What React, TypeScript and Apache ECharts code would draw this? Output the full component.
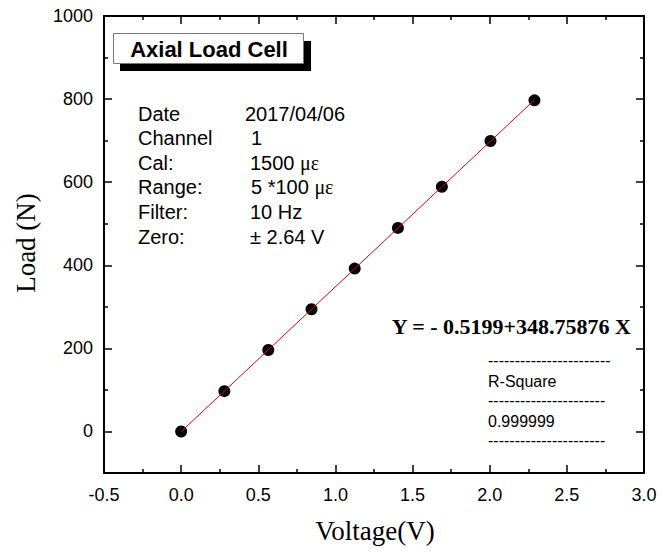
import React, { useEffect, useRef } from "react";
import * as echarts from "echarts";

const voltage = [0, 0.28, 0.565, 0.845, 1.125, 1.405, 1.69, 2.005, 2.29];
const load = [0, 97, 196, 294, 392, 490, 589, 699, 797];
const fitX = [0, 2.29];
const fitY = [-0.52, 798.1];
const yMajor = [0, 200, 400, 600, 800, 1000];
const yMinor = [-100, 100, 300, 500, 700, 900];
const infoLabels = ["Date", "Channel", "Cal:", "Range:", "Filter:", "Zero:"];
const infoValues = ["2017/04/06", "1", "1500", "5 *100", "10 Hz", "\u00b1 2.64 V"];
const infoUnits = ["", "", "\u03bc\u03b5", "\u03bc\u03b5", "", ""];
const equation = "Y = - 0.5199+348.75876 X";
const rLabel = "R-Square";
const rValue = "0.999999";

const SANS = "Arial, 'Liberation Sans', sans-serif";
const SERIF = "'Times New Roman', 'Liberation Serif', serif";

export default function App() {
  const ref = useRef<HTMLDivElement>(null);
  useEffect(() => {
    if (!ref.current) return;
    const chart = echarts.init(ref.current, null, { renderer: "svg" });
    const axisLine = { show: true, onZero: false, lineStyle: { color: "#000", width: 2 } };
    const noLine = { show: false, onZero: false };
    const baseY = { type: "value", min: -100, max: 1000, splitLine: { show: false } };
    const baseX = {
      type: "value",
      min: -0.5,
      max: 3,
      interval: 0.5,
      splitLine: { show: false },
      axisLine,
      axisTick: { show: true, inside: true, length: 8, lineStyle: { color: "#000", width: 1.5 } },
      minorTick: { show: true, splitNumber: 2, length: 4, lineStyle: { color: "#000", width: 1.5 } },
    };
    const texts: any[] = [];
    const rowY0 = 113.5;
    const rowDY = 24.6;
    const valueX = [245, 251, 250, 251, 250, 250];
    infoLabels.forEach((l, i) => {
      texts.push({
        type: "text",
        x: 138,
        y: rowY0 + i * rowDY,
        style: { text: l, font: `20px ${SANS}`, fill: "#000", align: "left", verticalAlign: "middle", textAlign: "left", textVerticalAlign: "middle" },
      });
      texts.push({
        type: "text",
        x: valueX[i],
        y: rowY0 + i * rowDY,
        style: {
          text: infoUnits[i] ? "{a|" + infoValues[i] + " }{b|" + infoUnits[i] + "}" : infoValues[i],
          font: `20px ${SANS}`,
          fill: "#000",
          align: "left",
          verticalAlign: "middle",
          textAlign: "left",
          textVerticalAlign: "middle",
          rich: {
            a: { font: `20px ${SANS}`, fill: "#000" },
            b: { font: `20px ${SERIF}`, fill: "#000" },
          },
        },
      });
    });
    const dash22 = "-".repeat(23);
    const dash21 = "-".repeat(22);
    const smallRows = [
      { t: dash22, y: 360 },
      { t: rLabel, y: 381 },
      { t: dash21, y: 400 },
      { t: rValue, y: 421 },
      { t: dash21, y: 440 },
    ];
    smallRows.forEach((r) => {
      texts.push({
        type: "text",
        x: 488,
        y: r.y,
        style: { text: r.t, font: `16px ${SANS}`, fill: "#000", align: "left", verticalAlign: "middle", textAlign: "left", textVerticalAlign: "middle" },
      });
    });

    chart.setOption({
      animation: false,
      grid: { left: 104, top: 16, width: 540, height: 457, containLabel: false },
      xAxis: [
        {
          ...baseX,
          position: "bottom",
          axisLabel: {
            show: true,
            fontSize: 18,
            fontFamily: SANS,
            color: "#000",
            margin: 13,
            formatter: (v: number) => v.toFixed(1),
          },
        },
        { ...baseX, position: "top", axisLabel: { show: false } },
      ],
      yAxis: [
        {
          ...baseY,
          position: "left",
          axisLine,
          axisTick: { show: true, inside: true, length: 8, customValues: yMajor, lineStyle: { color: "#000", width: 1.5 } },
          axisLabel: { show: true, customValues: yMajor, fontSize: 18, fontFamily: SANS, color: "#000", margin: 11, formatter: (v: number) => String(v) },
        },
        {
          ...baseY,
          position: "left",
          axisLine: noLine,
          axisTick: { show: true, inside: true, length: 4, customValues: yMinor, lineStyle: { color: "#000", width: 1.5 } },
          axisLabel: { show: false },
        },
        {
          ...baseY,
          position: "right",
          axisLine,
          axisTick: { show: true, inside: true, length: 8, customValues: yMajor, lineStyle: { color: "#000", width: 1.5 } },
          axisLabel: { show: false },
        },
        {
          ...baseY,
          position: "right",
          axisLine: noLine,
          axisTick: { show: true, inside: true, length: 4, customValues: yMinor, lineStyle: { color: "#000", width: 1.5 } },
          axisLabel: { show: false },
        },
      ],
      series: [
        {
          type: "scatter",
          xAxisIndex: 0,
          yAxisIndex: 0,
          data: voltage.map((v, i) => [v, load[i]]),
          symbol: "circle",
          symbolSize: 12,
          itemStyle: { color: "#000", opacity: 1 },
          z: 2,
        },
        {
          type: "line",
          xAxisIndex: 0,
          yAxisIndex: 0,
          data: fitX.map((v, i) => [v, fitY[i]]),
          showSymbol: false,
          symbol: "none",
          lineStyle: { color: "#e00000", width: 1 },
          z: 3,
        },
      ],
      graphic: [
        { type: "rect", shape: { x: 120, y: 41, width: 191, height: 30 }, style: { fill: "#000" } },
        { type: "rect", shape: { x: 113.5, y: 33.5, width: 190, height: 30 }, style: { fill: "#fff", stroke: "#777", lineWidth: 1 } },
        {
          type: "text",
          x: 209,
          y: 49,
          style: { text: "Axial Load Cell", font: `bold 22px ${SANS}`, fill: "#000", align: "center", verticalAlign: "middle", textAlign: "center", textVerticalAlign: "middle" },
        },
        ...texts,
        {
          type: "text",
          x: 631,
          y: 326,
          style: { text: equation, font: `bold 22px ${SERIF}`, fill: "#000", align: "right", verticalAlign: "middle", textAlign: "right", textVerticalAlign: "middle" },
        },
        {
          type: "text",
          x: 26,
          y: 243,
          rotation: Math.PI / 2,
          style: { text: "Load (N)", font: `27px ${SERIF}`, fill: "#000", align: "center", verticalAlign: "middle", textAlign: "center", textVerticalAlign: "middle" },
        },
        {
          type: "text",
          x: 375,
          y: 531,
          style: { text: "Voltage(V)", font: `27px ${SERIF}`, fill: "#000", align: "center", verticalAlign: "middle", textAlign: "center", textVerticalAlign: "middle" },
        },
      ],
    });
    return () => chart.dispose();
  }, []);
  return <div ref={ref} style={{ position: "fixed", left: 0, top: 0, width: 662, height: 556, background: "#fff" }} />;
}
